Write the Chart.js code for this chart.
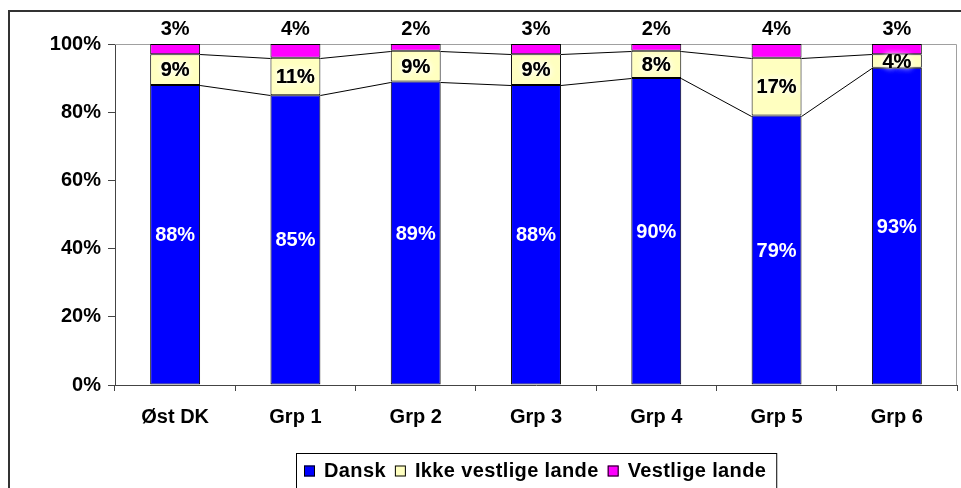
<!DOCTYPE html>
<html>
<head>
<meta charset="utf-8">
<script src="https://cdn.jsdelivr.net/npm/chart.js@4/dist/chart.umd.min.js"></script>
<style>
  html, body { margin: 0; padding: 0; background: #fff; }
  canvas { display: block; }
</style>
</head>
<body>
<canvas id="myChart" width="961" height="488"></canvas>
<script>
// Data
const categories = ['Øst DK', 'Grp 1', 'Grp 2', 'Grp 3', 'Grp 4', 'Grp 5', 'Grp 6'];
const dansk = [88, 85, 89, 88, 90, 79, 93];
const ikkeVestlige = [9, 11, 9, 9, 8, 17, 4];
const vestlige = [3, 4, 2, 3, 2, 4, 3];
const seriesNames = ['Dansk', 'Ikke vestlige lande', 'Vestlige lande'];

const FONT = '"Liberation Sans", Arial, sans-serif';

// white background + outer frame + plot border
const framePlugin = {
    id: 'frame',
    beforeDraw(chart) {
        const c = chart.ctx;
        c.save();
        c.fillStyle = '#fff';
        c.fillRect(0, 0, chart.width, chart.height);
        c.strokeStyle = '#333';
        c.lineWidth = 2;
        c.strokeRect(9, 11, chart.width + 20, chart.height + 20);
        c.restore();
    },
    beforeDatasetsDraw(chart) {
        const a = chart.chartArea;
        const c = chart.ctx;
        c.save();
        c.strokeStyle = '#a0a0a0';
        c.lineWidth = 1;
        c.beginPath();
        c.moveTo(a.left, a.top + 0.5);
        c.lineTo(a.right - 0.5, a.top + 0.5);
        c.lineTo(a.right - 0.5, a.bottom);
        c.stroke();
        c.restore();
    }
};

// series lines between bars + value labels
const labelsPlugin = {
    id: 'barLabels',
    afterDatasetsDraw(chart) {
        const c = chart.ctx;
        c.save();
        // series lines
        c.strokeStyle = '#000';
        c.lineWidth = 1;
        [0, 1].forEach(di => {
            const bars = chart.getDatasetMeta(di).data;
            for (let i = 0; i < bars.length - 1; i++) {
                const b1 = bars[i], b2 = bars[i + 1];
                c.beginPath();
                c.moveTo(b1.x + b1.width / 2, Math.round(b1.y) + 0.5);
                c.lineTo(b2.x - b2.width / 2, Math.round(b2.y) + 0.5);
                c.stroke();
            }
        });
        c.font = 'bold 20px ' + FONT;
        c.textAlign = 'center';
        c.textBaseline = 'middle';
        chart.data.datasets.forEach((ds, di) => {
            const bars = chart.getDatasetMeta(di).data;
            bars.forEach((b, i) => {
                const txt = ds.data[i] + '%';
                if (di === 0) {
                    c.fillStyle = '#fff';
                    c.fillText(txt, b.x, (b.y + b.base) / 2 + 1);
                } else if (di === 1) {
                    c.save();
                    c.shadowColor = '#fff';
                    c.shadowBlur = 6;
                    c.fillStyle = '#000';
                    c.fillText(txt, b.x, (b.y + b.base) / 2 + 1);
                    c.fillText(txt, b.x, (b.y + b.base) / 2 + 1);
                    c.restore();
                } else {
                    c.fillStyle = '#000';
                    c.fillText(txt, b.x, b.y - 15);
                }
            });
        });
        c.restore();
    }
};

// legend box at the bottom
const legendPlugin = {
    id: 'boxLegend',
    afterDraw(chart) {
        const c = chart.ctx;
        const a = chart.chartArea;
        c.save();
        c.font = 'bold 20px ' + FONT;
        const box = 11, gapBox = 9, gapItem = 9, padL = 8, padR = 10, ls = 0.37;
        const widths = seriesNames.map(n => c.measureText(n).width + ls * n.length);
        let total = padL + padR;
        widths.forEach((w, i) => { total += box + gapBox + w + (i < widths.length - 1 ? gapItem : 0); });
        const left = Math.round((a.left + a.right) / 2 - total / 2);
        const top = 453;
        c.strokeStyle = '#000';
        c.lineWidth = 1;
        c.strokeRect(left + 0.5, top + 0.5, total, 60);
        let x = left + padL;
        const cy = 471;
        if ('letterSpacing' in c) c.letterSpacing = ls + 'px';
        chart.data.datasets.forEach((ds, i) => {
            c.fillStyle = ds.backgroundColor;
            c.fillRect(x, cy - 5.5, box, box);
            c.strokeStyle = '#000';
            c.strokeRect(x + 0.5, cy - 5, box - 1, box - 1);
            c.fillStyle = '#000';
            c.textAlign = 'left';
            c.textBaseline = 'middle';
            c.fillText(seriesNames[i], x + box + gapBox, cy);
            x += box + gapBox + widths[i] + gapItem;
        });
        c.restore();
    }
};

const ctx = document.getElementById('myChart').getContext('2d');
const barStyle = { borderColor: '#000', borderWidth: 1, borderSkipped: false, barPercentage: 0.415, categoryPercentage: 1 };

const myChart = new Chart(ctx, {
    type: 'bar',
    data: {
        labels: categories,
        datasets: [
            Object.assign({ label: seriesNames[0], data: dansk, backgroundColor: '#0000ff' }, barStyle),
            Object.assign({ label: seriesNames[1], data: ikkeVestlige, backgroundColor: '#ffffc0' }, barStyle),
            Object.assign({ label: seriesNames[2], data: vestlige, backgroundColor: '#ff00ff' }, barStyle)
        ]
    },
    options: {
        responsive: false,
        animation: false,
        layout: { padding: { top: 44, right: 4, left: 0, bottom: 0 } },
        plugins: {
            legend: { display: false },
            tooltip: { enabled: false }
        },
        scales: {
            x: {
                stacked: true,
                afterFit: (s) => { s.height = 103; },
                grid: { offset: true, drawOnChartArea: false, tickLength: 6, color: '#444' },
                border: { color: '#444', width: 1 },
                ticks: { color: '#000', padding: 14, font: { family: FONT, size: 20, weight: 'bold' } }
            },
            y: {
                stacked: true,
                min: 0,
                max: 100,
                afterFit: (s) => { s.width = 115; },
                grid: { drawOnChartArea: false, tickLength: 7, color: '#444' },
                border: { color: '#444', width: 1 },
                ticks: {
                    stepSize: 20,
                    color: '#000',
                    padding: 7,
                    font: { family: FONT, size: 20, weight: 'bold' },
                    callback: (v) => v + '%'
                }
            }
        }
    },
    plugins: [framePlugin, labelsPlugin, legendPlugin]
});
</script>
</body>
</html>
